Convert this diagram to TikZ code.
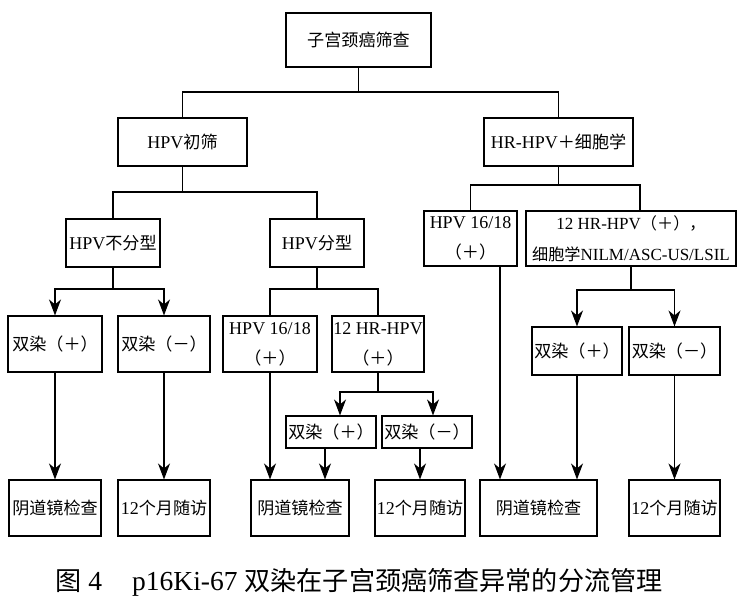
\documentclass[tikz,border=0pt]{standalone}
\usepackage{fontspec}
\setmainfont{Liberation Serif}
\newfontfamily\cjk[Scale=0.95]{Noto Sans CJK SC}
\usetikzlibrary{arrows.meta,calc}
\newcommand{\zh}[1]{{\cjk #1}}
\begin{document}
\begin{tikzpicture}[x=1pt,y=-1pt,
 bx/.style={draw,line width=1.1pt,inner sep=0pt,align=center,font=\fontsize{18}{30}\selectfont},
 ln/.style={line width=1.1pt},
 arr/.style={ln,-{Stealth[length=16pt,width=12pt,inset=5pt]}}]
\useasboundingbox (0,0) rectangle (746,599);
% nodes
\node[bx,minimum width=145pt,minimum height=54pt] (root) at (358.5,40) {\zh{子宫颈癌筛查}};
\node[bx,minimum width=129pt,minimum height=48pt] (pri) at (182.5,142) {HPV\zh{初筛}};
\node[bx,minimum width=149pt,minimum height=48pt] (hr) at (558.5,142) {HR-HPV\zh{＋细胞学}};
\node[bx,minimum width=94pt,minimum height=48pt] (nt) at (113,243) {HPV\zh{不分型}};
\node[bx,minimum width=94pt,minimum height=48pt] (ty) at (317,243) {HPV\zh{分型}};
\node[bx,minimum width=93pt,minimum height=55pt] (hp1618R) at (470.5,238.5) {HPV 16/18\\\zh{（＋）}};
\node[bx,minimum width=210pt,minimum height=55pt,font=\fontsize{17}{31}\selectfont] (hr12R) at (631,238.5) {12 HR-HPV\zh{（＋），}\\\zh{细胞学}NILM/ASC-US/LSIL};
\node[bx,minimum width=94pt,minimum height=56pt] (ds1) at (55,344) {\zh{双染（＋）}};
\node[bx,minimum width=92pt,minimum height=56pt] (ds2) at (164,344) {\zh{双染（－）}};
\node[bx,minimum width=94pt,minimum height=56pt] (hp1618L) at (270,344) {HPV 16/18\\\zh{（＋）}};
\node[bx,minimum width=92pt,minimum height=56pt] (hr12L) at (378,344) {12 HR-HPV\\\zh{（＋）}};
\node[bx,minimum width=90pt,minimum height=48pt] (ds3) at (577,351) {\zh{双染（＋）}};
\node[bx,minimum width=91pt,minimum height=48pt] (ds4) at (674.5,351) {\zh{双染（－）}};
\node[bx,minimum width=90pt,minimum height=32pt] (ds5) at (331,432) {\zh{双染（＋）}};
\node[bx,minimum width=90pt,minimum height=32pt] (ds6) at (427,432) {\zh{双染（－）}};
\node[bx,minimum width=92pt,minimum height=56pt] (b1) at (55,508) {\zh{阴道镜检查}};
\node[bx,minimum width=92pt,minimum height=56pt] (b2) at (164,508) {12\zh{个月随访}};
\node[bx,minimum width=98pt,minimum height=56pt] (b3) at (300,508) {\zh{阴道镜检查}};
\node[bx,minimum width=90pt,minimum height=56pt] (b4) at (420,508) {12\zh{个月随访}};
\node[bx,minimum width=117pt,minimum height=56pt] (b5) at (538.5,508) {\zh{阴道镜检查}};
\node[bx,minimum width=91pt,minimum height=56pt] (b6) at (674.5,508) {12\zh{个月随访}};
\node (cap) at (359,582) {\fontsize{27.5}{28}\selectfont\zh{图}~4\hspace{30pt}p16Ki-67~\zh{双染在子宫颈癌筛查异常的分流管理}};
% junctions
\coordinate (j1) at (358.5,92);
\coordinate (j2) at (182.5,192);
\coordinate (j3) at (558.5,185);
\coordinate (j3r) at (640,185);
\coordinate (j4) at (113,289);
\coordinate (j5) at (317,289);
\coordinate (j6) at (378,392);
\coordinate (j7) at (631,290);
\coordinate (x340) at (340,0);
\coordinate (x433) at (433,0);
\coordinate (x325) at (325,0);
\coordinate (x500) at (500,0);
% connectors
\draw[ln] (root) -- (j1);
\draw[ln] (j1) -| (pri);
\draw[ln] (j1) -| (hr);
\draw[ln] (pri) -- (j2);
\draw[ln] (j2) -| (nt);
\draw[ln] (j2) -| (ty);
\draw[ln] (hr) -- (j3);
\draw[ln] (j3) -| (hp1618R);
\draw[ln] (j3) -- (j3r) -- (j3r |- hr12R.north);
\draw[ln] (nt) -- (j4);
\draw[arr] (j4) -| (ds1);
\draw[arr] (j4) -| (ds2);
\draw[ln] (ty) -- (j5);
\draw[ln] (j5) -| (hp1618L);
\draw[ln] (j5) -| (hr12L);
\draw[ln] (hr12R) -- (j7);
\draw[arr] (j7) -| (ds3);
\draw[arr] (j7) -| (ds4);
\draw[arr] (ds1) -- (b1);
\draw[arr] (ds2) -- (b2);
\draw[arr] (hp1618L) -- (hp1618L |- b3.north);
\draw[ln] (hr12L) -- (j6);
\draw[arr] (j6) -| (x340 |- ds5.north);
\draw[arr] (j6) -| (x433 |- ds6.north);
\draw[arr] (x325 |- ds5.south) -- (x325 |- b3.north);
\draw[arr] (b4 |- ds6.south) -- (b4.north);
\draw[arr] (x500 |- hp1618R.south) -- (x500 |- b5.north);
\draw[arr] (ds3) -- (ds3 |- b5.north);
\draw[arr] (ds4) -- (b6);
\end{tikzpicture}
\end{document}
